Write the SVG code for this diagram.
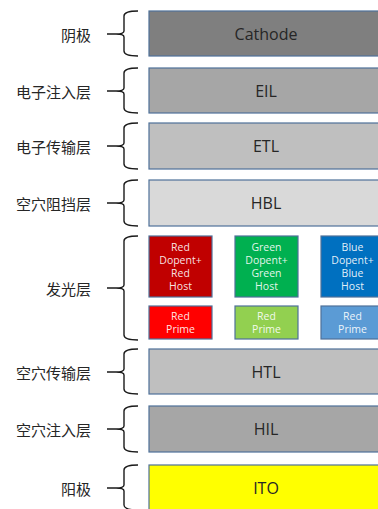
<svg xmlns="http://www.w3.org/2000/svg" width="378" height="509" viewBox="0 0 378 509">
<style>
.lbl{font-family:"Noto Sans CJK SC","Noto Sans",sans-serif;font-size:15px;fill:#262626;text-anchor:end;dominant-baseline:central}
.ly{stroke:#4f7199;stroke-width:1.2}
.lt{font-family:"Open Sans","Noto Sans",sans-serif;font-size:16px;fill:#262626;text-anchor:middle;dominant-baseline:central}
.st{font-family:"Open Sans","Noto Sans",sans-serif;font-size:10.5px;fill:#fff;fill-opacity:0.9;text-anchor:middle}
.br{fill:none;stroke:#1a1a1a;stroke-width:1.4}
</style>
<rect width="378" height="509" fill="#fff"/>
<g id="connectors">
<path class="br" d="M138,11 Q124,11 124,16 V31 Q124,34 116,34 H107 M116,34 Q124,34 124,37 V51 Q124,56 138,56"/>
<path class="br" d="M138,68 Q124,68 124,73 V88 Q124,91 116,91 H107 M116,91 Q124,91 124,94 V108 Q124,113 138,113"/>
<path class="br" d="M138,123 Q124,123 124,128 V143 Q124,146 116,146 H107 M116,146 Q124,146 124,149 V164 Q124,169 138,169"/>
<path class="br" d="M138,180 Q124,180 124,185 V200 Q124,203 116,203 H107 M116,203 Q124,203 124,206 V221 Q124,226 138,226"/>
<path class="br" d="M138,236 Q124,236 124,241 V285 Q124,288 116,288 H107 M116,288 Q124,288 124,291 V335 Q124,340 138,340"/>
<path class="br" d="M138,349 Q124,349 124,354 V369 Q124,372 116,372 H107 M116,372 Q124,372 124,375 V389 Q124,394 138,394"/>
<path class="br" d="M138,406 Q124,406 124,411 V426 Q124,429 116,429 H107 M116,429 Q124,429 124,432 V447 Q124,452 138,452"/>
<path class="br" d="M138,465 Q124,465 124,470 V485 Q124,488 116,488 H107 M116,488 Q124,488 124,491 V505 Q124,510 138,510"/>
</g>
<g id="cathode">
<text class="lbl" x="91" y="34">阴极</text>
<rect class="ly" x="149" y="11" width="240" height="45" fill="#7f7f7f"/>
<text class="lt" x="266" y="34">Cathode</text>
</g>
<g id="eil">
<text class="lbl" x="91" y="91">电子注入层</text>
<rect class="ly" x="149" y="68" width="240" height="45" fill="#a6a6a6"/>
<text class="lt" x="266" y="91">EIL</text>
</g>
<g id="etl">
<text class="lbl" x="91" y="146">电子传输层</text>
<rect class="ly" x="149" y="123" width="240" height="46" fill="#bfbfbf"/>
<text class="lt" x="266" y="146">ETL</text>
</g>
<g id="hbl">
<text class="lbl" x="91" y="203">空穴阻挡层</text>
<rect class="ly" x="149" y="180" width="240" height="46" fill="#d9d9d9"/>
<text class="lt" x="266" y="203">HBL</text>
</g>
<g id="eml">
<text class="lbl" x="91" y="288">发光层</text>
</g>
<g id="red-host">
<rect class="ly" x="149" y="236" width="63" height="61" fill="#c00000"/>
<text class="st" x="180.5" y="251">Red</text>
<text class="st" x="180.5" y="264">Dopent+</text>
<text class="st" x="180.5" y="277">Red</text>
<text class="st" x="180.5" y="290">Host</text>
</g>
<g id="green-host">
<rect class="ly" x="235" y="236" width="63" height="61" fill="#00b050"/>
<text class="st" x="266.5" y="251">Green</text>
<text class="st" x="266.5" y="264">Dopent+</text>
<text class="st" x="266.5" y="277">Green</text>
<text class="st" x="266.5" y="290">Host</text>
</g>
<g id="blue-host">
<rect class="ly" x="321" y="236" width="63" height="61" fill="#0070c0"/>
<text class="st" x="352.5" y="251">Blue</text>
<text class="st" x="352.5" y="264">Dopent+</text>
<text class="st" x="352.5" y="277">Blue</text>
<text class="st" x="352.5" y="290">Host</text>
</g>
<g id="red-prime">
<rect class="ly" x="149" y="306" width="63" height="33" fill="#ff0000"/>
<text class="st" x="180.5" y="320">Red</text>
<text class="st" x="180.5" y="333">Prime</text>
</g>
<g id="green-prime">
<rect class="ly" x="235" y="306" width="63" height="33" fill="#92d050"/>
<text class="st" x="266.5" y="320">Red</text>
<text class="st" x="266.5" y="333">Prime</text>
</g>
<g id="blue-prime">
<rect class="ly" x="321" y="306" width="63" height="33" fill="#5b9bd5"/>
<text class="st" x="352.5" y="320">Red</text>
<text class="st" x="352.5" y="333">Prime</text>
</g>
<g id="htl">
<text class="lbl" x="91" y="372">空穴传输层</text>
<rect class="ly" x="149" y="349" width="240" height="45" fill="#bfbfbf"/>
<text class="lt" x="266" y="372">HTL</text>
</g>
<g id="hil">
<text class="lbl" x="91" y="429">空穴注入层</text>
<rect class="ly" x="149" y="406" width="240" height="46" fill="#a6a6a6"/>
<text class="lt" x="266" y="429">HIL</text>
</g>
<g id="ito">
<text class="lbl" x="91" y="488">阳极</text>
<rect class="ly" x="149" y="465" width="240" height="50" fill="#ffff00"/>
<text class="lt" x="266" y="488">ITO</text>
</g>
</svg>
